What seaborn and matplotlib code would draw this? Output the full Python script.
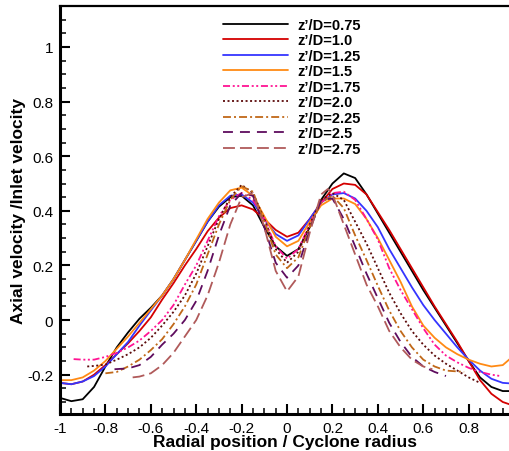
import numpy as np
import pandas as pd
import matplotlib
matplotlib.use("Agg")
import matplotlib.pyplot as plt
import seaborn as sns

# axial velocity profiles, one pair of lists per axial station z'/D
labels = ["z\u2019/D=0.75", "z\u2019/D=1.0", "z\u2019/D=1.25", "z\u2019/D=1.5", "z\u2019/D=1.75",
          "z\u2019/D=2.0", "z\u2019/D=2.25", "z\u2019/D=2.5", "z\u2019/D=2.75"]

r_full = [-1, -0.95, -0.9, -0.85, -0.8, -0.75, -0.7, -0.65, -0.6, -0.55, -0.5, -0.45, -0.4,
          -0.35, -0.3, -0.25, -0.2, -0.15, -0.1, -0.05, 0, 0.05, 0.1, 0.15, 0.2, 0.25, 0.3,
          0.35, 0.4, 0.45, 0.5, 0.55, 0.6, 0.65, 0.7, 0.75, 0.8, 0.85, 0.9, 0.95, 0.985]

v_075 = [-0.285, -0.297, -0.29, -0.245, -0.17, -0.10, -0.045, 0.005, 0.045, 0.09, 0.15, 0.22,
         0.29, 0.36, 0.415, 0.45, 0.455, 0.42, 0.34, 0.27, 0.235, 0.26, 0.34, 0.44, 0.50,
         0.537, 0.52, 0.46, 0.39, 0.32, 0.25, 0.18, 0.11, 0.045, -0.02, -0.085, -0.15,
         -0.21, -0.245, -0.26, -0.26]
v_100 = [-0.23, -0.235, -0.225, -0.20, -0.165, -0.125, -0.085, -0.04, 0.01, 0.075, 0.135,
         0.20, 0.26, 0.325, 0.375, 0.41, 0.42, 0.405, 0.37, 0.33, 0.305, 0.32, 0.37, 0.43,
         0.48, 0.50, 0.495, 0.46, 0.395, 0.33, 0.26, 0.19, 0.12, 0.05, -0.015, -0.08, -0.15,
         -0.22, -0.27, -0.30, -0.31]
v_125 = [-0.23, -0.235, -0.225, -0.205, -0.17, -0.125, -0.08, -0.02, 0.035, 0.09, 0.15, 0.22,
         0.29, 0.36, 0.42, 0.455, 0.46, 0.43, 0.37, 0.315, 0.29, 0.31, 0.37, 0.43, 0.46,
         0.465, 0.445, 0.40, 0.34, 0.26, 0.19, 0.12, 0.055, 0.0, -0.05, -0.10, -0.145,
         -0.185, -0.215, -0.23, -0.232]
v_150 = [-0.22, -0.22, -0.21, -0.185, -0.15, -0.105, -0.06, -0.01, 0.04, 0.09, 0.15, 0.22,
         0.295, 0.37, 0.43, 0.475, 0.485, 0.455, 0.38, 0.305, 0.27, 0.29, 0.36, 0.42, 0.445,
         0.445, 0.425, 0.37, 0.30, 0.22, 0.14, 0.05, -0.02, -0.065, -0.10, -0.125, -0.145,
         -0.16, -0.17, -0.165, -0.14]

r_175 = [-0.94, -0.9, -0.85, -0.8, -0.75, -0.7, -0.65, -0.6, -0.55, -0.5, -0.45, -0.4, -0.35,
         -0.3, -0.25, -0.2, -0.15, -0.1, -0.05, 0, 0.05, 0.1, 0.15, 0.2, 0.25, 0.3, 0.35, 0.4,
         0.45, 0.5, 0.55, 0.6, 0.65, 0.7, 0.75, 0.8, 0.85, 0.9, 0.94]
v_175 = [-0.143, -0.145, -0.145, -0.135, -0.12, -0.10, -0.075, -0.04, 0.0, 0.055, 0.13, 0.20,
         0.29, 0.38, 0.44, 0.465, 0.44, 0.37, 0.27, 0.225, 0.26, 0.35, 0.43, 0.465, 0.47,
         0.44, 0.37, 0.295, 0.19, 0.11, 0.04, -0.03, -0.09, -0.13, -0.155, -0.175, -0.19,
         -0.20, -0.205]

r_200 = [-0.88, -0.85, -0.8, -0.75, -0.7, -0.65, -0.6, -0.55, -0.5, -0.45, -0.4, -0.35, -0.3,
         -0.25, -0.2, -0.15, -0.1, -0.05, 0, 0.05, 0.1, 0.15, 0.2, 0.25, 0.3, 0.35, 0.4, 0.45,
         0.5, 0.55, 0.6, 0.65, 0.7, 0.75, 0.8, 0.85]
v_200 = [-0.17, -0.168, -0.163, -0.145, -0.125, -0.10, -0.065, -0.02, 0.03, 0.09, 0.17, 0.27,
         0.37, 0.45, 0.495, 0.465, 0.37, 0.26, 0.21, 0.25, 0.35, 0.44, 0.465, 0.44, 0.36,
         0.28, 0.19, 0.10, 0.025, -0.04, -0.09, -0.13, -0.16, -0.185, -0.21, -0.23]

r_225 = [-0.8, -0.75, -0.7, -0.65, -0.6, -0.55, -0.5, -0.45, -0.4, -0.35, -0.3, -0.25, -0.2,
         -0.15, -0.1, -0.05, 0, 0.05, 0.1, 0.15, 0.2, 0.25, 0.3, 0.35, 0.4, 0.45, 0.5, 0.55,
         0.6, 0.65, 0.7, 0.78]
v_225 = [-0.195, -0.19, -0.17, -0.145, -0.11, -0.07, -0.015, 0.05, 0.13, 0.24, 0.35, 0.44,
         0.49, 0.47, 0.36, 0.24, 0.19, 0.23, 0.34, 0.43, 0.455, 0.41, 0.31, 0.22, 0.125,
         0.035, -0.04, -0.10, -0.145, -0.17, -0.185, -0.19]

r_250 = [-0.76, -0.7, -0.65, -0.6, -0.55, -0.5, -0.45, -0.4, -0.35, -0.3, -0.25, -0.2, -0.15,
         -0.1, -0.05, 0, 0.05, 0.1, 0.15, 0.2, 0.25, 0.3, 0.35, 0.4, 0.45, 0.5, 0.55, 0.6,
         0.65, 0.7]
v_250 = [-0.18, -0.177, -0.165, -0.135, -0.09, -0.05, 0.0, 0.07, 0.18, 0.31, 0.42, 0.465,
         0.455, 0.34, 0.21, 0.155, 0.20, 0.33, 0.44, 0.445, 0.37, 0.27, 0.17, 0.08, -0.01,
         -0.08, -0.135, -0.17, -0.19, -0.205]

r_275 = [-0.68, -0.65, -0.6, -0.55, -0.5, -0.45, -0.4, -0.35, -0.3, -0.25, -0.2, -0.15, -0.1,
         -0.05, 0, 0.05, 0.1, 0.15, 0.18, 0.2, 0.25, 0.3, 0.35, 0.4, 0.45, 0.5, 0.55, 0.6, 0.64]
v_275 = [-0.21, -0.207, -0.195, -0.165, -0.12, -0.06, 0.0, 0.09, 0.21, 0.35, 0.45, 0.465,
         0.34, 0.18, 0.105, 0.16, 0.32, 0.46, 0.48, 0.46, 0.35, 0.24, 0.13, 0.05, -0.04,
         -0.10, -0.145, -0.17, -0.18]

radii = [r_full, r_full, r_full, r_full, r_175, r_200, r_225, r_250, r_275]
velocities = [v_075, v_100, v_125, v_150, v_175, v_200, v_225, v_250, v_275]

colors = ["#000000", "#d40000", "#3535ff", "#ff8a14", "#ff1493",
          "#5c0a0a", "#c06818", "#5e0c5e", "#b05a5a"]
dash_styles = ["", "", "", "", (3.9, 1.5, 1.1, 1.4, 1.1, 1.5),
               (1.1, 1.4), (4.4, 1.7, 1.1, 1.7), (5.5, 3.9), (6.6, 2.8)]

rows = []
for lab, r, v in zip(labels, radii, velocities):
    for a, b in zip(r, v):
        rows.append({"station": lab, "r": a, "u": b})
df = pd.DataFrame(rows)

sns.set_style("ticks", {"axes.edgecolor": "black", "xtick.color": "black",
                        "ytick.color": "black", "text.color": "black",
                        "axes.labelcolor": "black"})
plt.rcParams["font.family"] = ["Liberation Sans", "DejaVu Sans"]

fig = plt.figure(figsize=(5.10, 4.52), dpi=100)
ax = fig.add_axes([60 / 510, 37 / 452, 450 / 510, 408 / 452])

sns.lineplot(data=df, x="r", y="u", hue="station", style="station",
             hue_order=labels, style_order=labels,
             palette=dict(zip(labels, colors)), dashes=dict(zip(labels, dash_styles)),
             estimator=None, sort=False, linewidth=1.3, legend=False, ax=ax)

ax.set_xlim(-1, 0.982)
ax.set_ylim(-0.344, 1.15)
ax.set_xticks(np.arange(-1, 0.81, 0.2))
ax.set_xticklabels(["-1", "-0.8", "-0.6", "-0.4", "-0.2", "0", "0.2", "0.4", "0.6", "0.8"])
ax.set_xticks(np.arange(-1, 0.99, 0.05), minor=True)
ax.set_yticks(np.arange(-0.2, 1.01, 0.2))
ax.set_yticklabels(["-0.2", "0", "0.2", "0.4", "0.6", "0.8", "1"])
ax.set_yticks(np.arange(-0.3, 1.151, 0.05), minor=True)

ax.tick_params(which="both", direction="in", top=False, right=False, labelsize=11)
ax.tick_params(which="major", length=7, width=1.5, pad=5)
ax.tick_params(which="minor", length=4, width=1.1)
ax.spines["right"].set_visible(False)
ax.spines["left"].set_linewidth(2.2)
ax.spines["bottom"].set_linewidth(2.2)
ax.spines["top"].set_linewidth(1.6)

ax.set_xlabel("Radial position / Cyclone radius", fontsize=12.5, fontweight="bold", labelpad=-0.5)
ax.set_ylabel("Axial velocity /Inlet velocity", fontsize=12.5, fontweight="bold", labelpad=0.5)

handles = ax.lines[:len(labels)]
leg = ax.legend(handles, labels, loc="upper left", bbox_to_anchor=(0.35, 0.985),
                frameon=False, fontsize=10.5, handlelength=4.4, handletextpad=0.7,
                labelspacing=0.1, borderaxespad=0)
for t in leg.get_texts():
    t.set_fontweight("bold")

fig.savefig("out.png", dpi=100)
